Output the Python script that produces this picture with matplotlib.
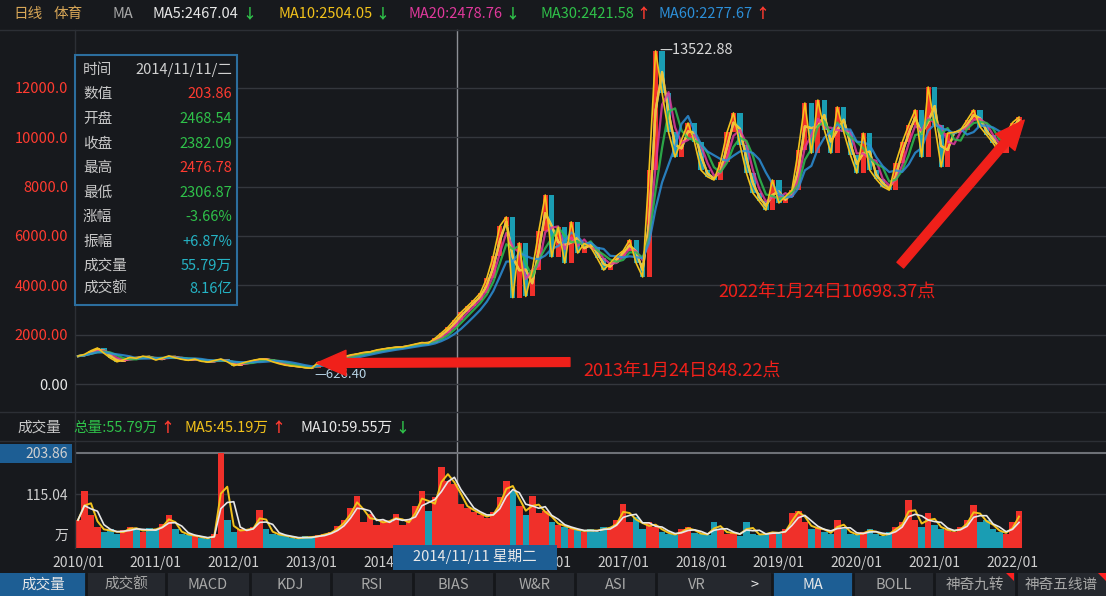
import numpy as np
import pandas as pd
import matplotlib
matplotlib.use('Agg')
import matplotlib.pyplot as plt
from matplotlib.patches import Rectangle, Polygon
from matplotlib.lines import Line2D

plt.rcParams['font.family'] = ['Noto Sans CJK SC', 'DejaVu Sans']

# monthly closes 2010/01 .. 2022/01
close = [1130, 1200, 1350, 1460, 1250, 1050, 900, 980, 1080, 1040, 1130, 1080,
         970, 1050, 1140, 1060, 1000, 960, 1010, 920, 890, 950, 1010, 900,
         740, 820, 900, 960, 1010, 1000, 900, 820, 760, 730, 700, 660,
         640, 880, 900, 960, 1050, 1100, 1180, 1220, 1280, 1300, 1380, 1420,
         1460, 1490, 1500, 1560, 1620, 1680, 1660, 1850, 2070, 2300, 2600, 2900,
         3150, 3400, 3690, 4300, 5200, 6400, 6770, 3500, 5720, 3550, 4620, 6200,
         7660, 5150, 6360, 4900, 6570, 5310, 5700, 5550, 5100, 4620, 4900, 5200,
         5400, 5840, 4900, 4340, 8670, 13500, 11800, 10200, 9200, 9900, 10580, 9800,
         8670, 8400, 8270, 9000, 10200, 10990, 9700, 8550, 7740, 7400, 7050, 8270,
         7340, 7600, 7860, 9500, 11390, 9360, 11510, 10300, 9360, 11230, 10200, 9300,
         8550, 10170, 8670, 8300, 8000, 7860, 8960, 9800, 10500, 11110, 9200, 12040,
         10500, 8800, 10170, 10200, 10300, 10700, 11110, 10420, 10100, 9770, 9360, 10170,
         10600, 10820]
# monthly volume (万)
volume = [60, 122, 70, 45, 35, 40, 30, 38, 45, 40, 35, 42,
          38, 52, 71, 40, 30, 28, 25, 22, 20, 30, 203, 60,
          35, 40, 38, 45, 82, 40, 30, 28, 25, 22, 20, 25,
          22, 28, 30, 35, 48, 60, 85, 111, 55, 73, 50, 60,
          55, 73, 50, 60, 90, 122, 80, 110, 173, 144, 138, 95,
          85, 78, 70, 65, 78, 110, 144, 122, 90, 70, 111, 75,
          80, 55, 50, 45, 40, 38, 35, 40, 35, 45, 42, 60,
          95, 55, 67, 40, 55, 45, 35, 30, 28, 40, 45, 32,
          30, 28, 56, 38, 30, 35, 25, 56, 30, 28, 32, 35,
          30, 40, 75, 80, 55, 40, 45, 35, 30, 60, 40, 30,
          28, 35, 40, 30, 25, 35, 45, 55, 102, 60, 45, 75,
          50, 40, 38, 35, 45, 60, 93, 55, 60, 40, 35, 30,
          55, 80]

year_labels = ['2010/01', '2011/01', '2012/01', '2013/01', '2014/01', '2015/01', '2016/01',
               '2017/01', '2018/01', '2019/01', '2020/01', '2021/01', '2022/01']
price_ticks = [0, 2000, 4000, 6000, 8000, 10000, 12000]
price_tick_labels = ['0.00', '2000.00', '4000.00', '6000.00', '8000.0', '10000.0', '12000.0']
vol_ticks = [30, 115.04, 203.86]
vol_tick_labels = ['万', '115.04', '203.86']

peak_high = 13522.88
trough_low = 626.40
cursor_month = 58.4          # 2014/11/11
mark1 = (36.8, 848.22)       # 2013年1月24日
mark2 = (145.8, 10698.37)    # 2022年1月24日

info_rows = [('时间', '2014/11/11/二', '#d0d0d0'), ('数值', '203.86', '#ff3b30'),
             ('开盘', '2468.54', '#2fc24a'), ('收盘', '2382.09', '#2fc24a'),
             ('最高', '2476.78', '#ff3b30'), ('最低', '2306.87', '#2fc24a'),
             ('涨幅', '-3.66%', '#2fc24a'), ('振幅', '+6.87%', '#25b3c4'),
             ('成交量', '55.79万', '#25b3c4'), ('成交额', '8.16亿', '#25b3c4')]

tabs = ['成交量', '成交额', 'MACD', 'KDJ', 'RSI', 'BIAS', 'W&R', 'ASI', 'VR', '>',
        'MA', 'BOLL', '神奇九转', '神奇五线谱']

BG = '#17191d'
RED = '#f0302a'
TEAL = '#1a9db3'
W, H = 1106, 596

fig = plt.figure(figsize=(W / 100, H / 100), dpi=100, facecolor=BG)

def fx(px): return px / W
def fy(py): return 1 - py / H

def ftext(px, py, s, color, size=10, ha='left', **kw):
    fig.text(fx(px), fy(py), s, color=color, fontsize=size, ha=ha, va='center', **kw)

# ---- price panel
ax = fig.add_axes([fx(75), fy(410), (1106 - 75) / W, (410 - 30) / H])
ax.set_facecolor('none')
n = len(close)
m = np.arange(n)
c = np.array(close, float)
o = np.r_[c[0], c[:-1]]
up = c >= o
ax.bar(m, c - o, bottom=o, width=0.8, color=np.where(up, RED, TEAL), zorder=2)
s = pd.Series(c)
for win, col in [(2, '#e8e8e8'), (2, '#f2c21b'), (3, '#e0399c'), (4, '#2fbf4f'), (6, '#2c8fd8')]:
    ax.plot(m, s.rolling(win, min_periods=1).mean(), color=col, lw=1.6, alpha=0.85, zorder=3)
ax.plot(m, c, color='#f2c21b', lw=1.2, zorder=4)

ax.set_xlim(-0.46, 158.4)
ax.set_ylim(-1054, 14351)
ax.set_xticks([])
ax.set_yticks(price_ticks)
ax.set_yticklabels(price_tick_labels, fontsize=10.5)
for lab, v in zip(ax.get_yticklabels(), price_ticks):
    lab.set_color('#e8e8e8' if v == 0 else '#ff3b30')
ax.tick_params(axis='y', length=0, pad=5)
ax.grid(axis='y', color='#34373d', lw=1)
for sp in ax.spines.values():
    sp.set_visible(False)

ip = int(np.argmax(c))
ax.annotate('—' + f'{peak_high:.2f}', xy=(ip, peak_high), xytext=(3, 0), textcoords='offset points',
            color='#d8d8d8', fontsize=10.5, va='center', ha='left')
it = int(np.argmin(c))
ax.annotate('—' + f'{trough_low:.2f}', xy=(it, trough_low), xytext=(2, -4), textcoords='offset points',
            color='#b8d4e6', fontsize=9.5, va='center', ha='left')

# crosshair through both panels
ax.axvline(cursor_month, ymin=-0.363, ymax=1, color='#8d9096', lw=1, clip_on=False, zorder=1)

# red arrows and notes
arrow = dict(arrowstyle='simple,head_width=1.3,head_length=1.5,tail_width=0.45',
             color='#f0201a', mutation_scale=14, shrinkA=0, shrinkB=0)
ax.annotate('', xy=mark1, xytext=(75.8, 890), arrowprops=arrow, zorder=6)
ax.text(77.8, 530, '2013年1月24日848.22点', color='#f0201a', fontsize=13, va='center', ha='left')
ax.annotate('', xy=mark2, xytext=(126.7, 4820), arrowprops=arrow, zorder=6)
ax.text(98.6, 3730, '2022年1月24日10698.37点', color='#f0201a', fontsize=13, va='center', ha='left')

# ---- volume panel
av = fig.add_axes([fx(75), fy(548), (1106 - 75) / W, (548 - 445) / H])
av.set_facecolor('none')
vol = np.array(volume, float)
av.bar(m, vol, width=1.0, color=np.where(up, RED, TEAL), zorder=2)
vs = pd.Series(vol)
av.plot(m, vs.rolling(2, min_periods=1).mean(), color='#f2c21b', lw=1.4, zorder=3)
av.plot(m, vs.rolling(3, min_periods=1).mean(), color='#e8e8e8', lw=1.2, zorder=3)
av.set_xlim(-0.46, 158.4)
av.set_ylim(0, 221)
av.set_yticks(vol_ticks)
av.set_yticklabels(vol_tick_labels, fontsize=10, color='#d0d0d0')
av.tick_params(axis='y', length=0, pad=5)
av.axhline(203.86, color='#6e7177', lw=1.5, zorder=1)
av.axhline(115.04, color='#34373d', lw=1, zorder=1)
av.set_xticks(np.arange(0, 12 * len(year_labels), 12))
av.set_xticklabels(year_labels, fontsize=10, color='#cfcfcf')
av.tick_params(axis='x', length=0, pad=6)
for sp in av.spines.values():
    sp.set_visible(False)
# highlight box behind the top volume label
fig.patches.append(Rectangle((0, fy(463)), fx(72), (463 - 444) / H, transform=fig.transFigure,
                             facecolor='#1d5e94', edgecolor='none', zorder=-1))

# ---- separators
for yy in (30, 412, 441):
    fig.add_artist(Line2D([0, 1], [fy(yy), fy(yy)], color='#2c2f35', lw=1))
fig.add_artist(Line2D([fx(75), fx(75)], [fy(30), fy(548)], color='#2c2f35', lw=1))

# ---- header rows
ftext(13, 14, '日线', '#d7a657', 10.5)
ftext(54, 14, '体育', '#d7a657', 10.5)
ftext(112, 14, 'MA', '#a8a8a8', 10.5)
for x0, label, col, arr, acol in [(153, 'MA5:2467.04', '#e8e8e8', '↓', '#2fc24a'),
                                  (278, 'MA10:2504.05', '#f2c21b', '↓', '#2fc24a'),
                                  (408, 'MA20:2478.76', '#e0399c', '↓', '#2fc24a'),
                                  (540, 'MA30:2421.58', '#2fc24a', '↑', '#ff3b30'),
                                  (658, 'MA60:2277.67', '#2c8fd8', '↑', '#ff3b30')]:
    t = fig.text(fx(x0), fy(14), label, color=col, fontsize=10.5, va='center')
    fig.canvas.draw()
    bb = t.get_window_extent()
    fig.text(bb.x1 / W + fx(3), fy(14), arr, color=acol, fontsize=10, va='center', fontweight='bold')

ftext(17, 428, '成交量', '#c8c8c8', 10.5)
for x0, label, col, arr, acol in [(73, '总量:55.79万', '#2fc24a', '↑', '#ff3b30'),
                                  (184, 'MA5:45.19万', '#f2c21b', '↑', '#ff3b30'),
                                  (300, 'MA10:59.55万', '#e8e8e8', '↓', '#2fc24a')]:
    t = fig.text(fx(x0), fy(428), label, color=col, fontsize=10.5, va='center')
    fig.canvas.draw()
    bb = t.get_window_extent()
    fig.text(bb.x1 / W + fx(3), fy(428), arr, color=acol, fontsize=10, va='center', fontweight='bold')

# ---- info box
fig.patches.append(Rectangle((fx(75), fy(305)), (237 - 75) / W, (305 - 55) / H, transform=fig.transFigure,
                             facecolor=BG, edgecolor='#2c6e9e', lw=1.5, zorder=5))
row_y = [70, 94, 119, 144, 168, 193, 217, 242, 266, 289]
for yy, (lab, val, col) in zip(row_y, info_rows):
    ftext(83, yy, lab, '#c8c8c8', 10.5, zorder=6)
    ftext(232, yy, val, col, 10.5, ha='right', zorder=6)

# ---- cursor date tag
fig.patches.append(Rectangle((fx(393), fy(570)), (557 - 393) / W, 25 / H, transform=fig.transFigure,
                             facecolor='#1d5e94', edgecolor='none', zorder=5))
ftext(475, 557, '2014/11/11 星期二', '#e8e8e8', 10.5, ha='center', zorder=6)

# ---- bottom tabs
fig.patches.append(Rectangle((0, 0), 1, (596 - 573) / H, transform=fig.transFigure,
                             facecolor='#25282e', edgecolor='none'))
edges = [0, 86, 166, 250, 331, 413, 494, 575, 656, 737, 772, 853, 934, 1016, 1106]
for i, name in enumerate(tabs):
    a, b = edges[i], edges[i + 1]
    if name in ('成交量', 'MA'):
        fig.patches.append(Rectangle((fx(a), 0), (b - a) / W, (596 - 573) / H, transform=fig.transFigure,
                                     facecolor='#1d5e94', edgecolor='none'))
    if name != '>' and i > 0:
        fig.add_artist(Line2D([fx(a), fx(a)], [0, fy(574)], color='#15171a', lw=2))
    ftext((a + b) / 2, 585, name, '#e8e8e8' if name in ('成交量', 'MA', '>') else '#a8a8a8',
          10.5, ha='center')
for xr in (1014, 1106):
    fig.patches.append(Polygon([(fx(xr - 8), fy(573)), (fx(xr), fy(573)), (fx(xr), fy(581))],
                               transform=fig.transFigure, facecolor='#ff2020', edgecolor='none'))

fig.savefig('out.png', dpi=100, facecolor=BG)
